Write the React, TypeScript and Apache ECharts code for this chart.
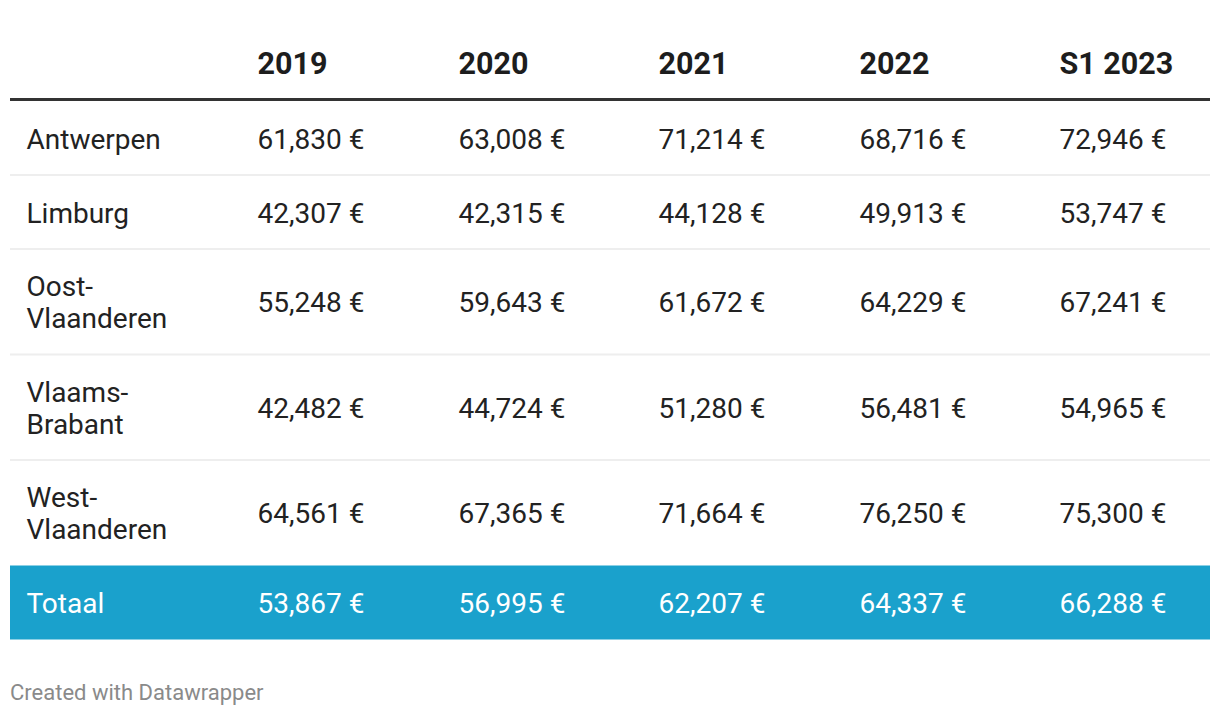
import { useEffect, useRef } from "react";
import * as echarts from "echarts";

// ---- Data ----
const years = ["2019", "2020", "2021", "2022", "S1 2023"];
const regions = ["Antwerpen", "Limburg", "Oost-Vlaanderen", "Vlaams-Brabant", "West-Vlaanderen"];
const antwerpen = [61830, 63008, 71214, 68716, 72946];
const limburg = [42307, 42315, 44128, 49913, 53747];
const oostVlaanderen = [55248, 59643, 61672, 64229, 67241];
const vlaamsBrabant = [42482, 44724, 51280, 56481, 54965];
const westVlaanderen = [64561, 67365, 71664, 76250, 75300];
const totaalLabel = "Totaal";
const totaal = [53867, 56995, 62207, 64337, 66288];
const footerText = "Created with Datawrapper";

// ---- Layout / style ----
const FONT = "Roboto, 'Noto Sans', sans-serif";
const TABLE_W = 1200;
const COL_X = [16.5, 247.5, 448.5, 648.5, 849.5, 1049.5];
const HEADER_H = 71;
const HEADER_TEXT_Y = 33.5;
const ROW_BASE_H = 74;
const LINE_H = 31.5;
const TEXT_DY = 1;
const TOTAL_BG = "#1aa1cc";
const TEXT = "#222222";

const fmt = (v: number) => v.toLocaleString("en-US") + " €";
const wrapLabel = (s: string) => s.replace(/-/g, "-\n");

export default function App() {
  const ref = useRef<HTMLDivElement>(null);

  useEffect(() => {
    if (!ref.current) return;
    const chart = echarts.init(ref.current, undefined, { renderer: "svg" });

    const rowLabels = [...regions, totaalLabel];
    const rowValues = [antwerpen, limburg, oostVlaanderen, vlaamsBrabant, westVlaanderen, totaal];
    const totalIdx = rowLabels.length - 1;

    const tops: number[] = [];
    const bottoms: number[] = [];
    let y = HEADER_H;
    rowLabels.forEach((lab) => {
      const lines = wrapLabel(lab).split("\n").length;
      const h = ROW_BASE_H + LINE_H * (lines - 1);
      tops.push(y);
      bottoms.push(y + h);
      y += h;
    });
    const tableH = y;

    const rowData = rowLabels.map((_, i) => [tops[i], bottoms[i], i]);

    const cellData: number[][] = [];
    cellData.push([COL_X[0], HEADER_TEXT_Y, -1, 0]);
    years.forEach((_, c) => cellData.push([COL_X[c + 1], HEADER_TEXT_Y, -1, c + 1]));
    rowLabels.forEach((_, r) => {
      const cy = (tops[r] + bottoms[r]) / 2 + TEXT_DY;
      cellData.push([COL_X[0], cy, r, 0]);
      rowValues[r].forEach((_, c) => cellData.push([COL_X[c + 1], cy, r, c + 1]));
    });

    chart.setOption({
      animation: false,
      backgroundColor: "#ffffff",
      grid: { left: 10, top: 30, width: TABLE_W, height: tableH },
      xAxis: { type: "value", min: 0, max: TABLE_W, show: false },
      yAxis: { type: "value", min: 0, max: tableH, inverse: true, show: false },
      graphic: [
        {
          type: "text",
          x: 10,
          y: 692.5,
          style: {
            text: footerText,
            fill: "#8a8a8a",
            fontSize: 22,
            fontFamily: FONT,
            verticalAlign: "middle",
            align: "left",
          },
        },
      ],
      series: [
        {
          type: "custom",
          name: "rows",
          clip: false,
          silent: true,
          data: rowData,
          encode: { x: -1, y: [0, 1] },
          renderItem: (params: any, api: any) => {
            const top = api.value(0);
            const bottom = api.value(1);
            const r = api.value(2);
            const p0 = api.coord([0, top]);
            const p1 = api.coord([TABLE_W, bottom]);
            const children: any[] = [];
            if (r === 0) {
              const ph = api.coord([0, HEADER_H]);
              children.push({
                type: "rect",
                shape: { x: p0[0], y: ph[1] - 3, width: p1[0] - p0[0], height: 3 },
                style: { fill: "#333333" },
              });
            }
            if (r === totalIdx) {
              children.push({
                type: "rect",
                shape: { x: p0[0], y: p0[1], width: p1[0] - p0[0], height: p1[1] - p0[1] },
                style: { fill: TOTAL_BG },
              });
            } else if (r + 1 < totalIdx) {
              children.push({
                type: "rect",
                shape: { x: p0[0], y: p1[1] - 1, width: p1[0] - p0[0], height: 2 },
                style: { fill: "#eeeeee" },
              });
            }
            return { type: "group", children };
          },
        },
        {
          type: "custom",
          name: "cells",
          clip: false,
          silent: true,
          data: cellData,
          encode: { x: 0, y: 1 },
          z: 5,
          renderItem: (params: any, api: any) => {
            const p = api.coord([api.value(0), api.value(1)]);
            const r = api.value(2);
            const c = api.value(3);
            let text = "";
            let bold = false;
            let fill = TEXT;
            let size = 28;
            if (r < 0) {
              text = c === 0 ? "" : years[c - 1];
              bold = true;
              size = 30.5;
              fill = "#1d1d1d";
            } else {
              text = c === 0 ? wrapLabel(rowLabels[r]) : fmt(rowValues[r][c - 1]);
              if (r === totalIdx) fill = "#ffffff";
            }
            return {
              type: "text",
              x: p[0],
              y: p[1],
              style: {
                text,
                fill,
                fontSize: size,
                fontWeight: bold ? "bold" : "normal",
                fontFamily: FONT,
                align: "left",
                verticalAlign: "middle",
                lineHeight: 32,
              },
            };
          },
        },
      ],
    });

    return () => chart.dispose();
  }, []);

  return (
    <div
      ref={ref}
      style={{ position: "fixed", left: 0, top: 0, width: 1220, height: 716, background: "#fff" }}
    />
  );
}
